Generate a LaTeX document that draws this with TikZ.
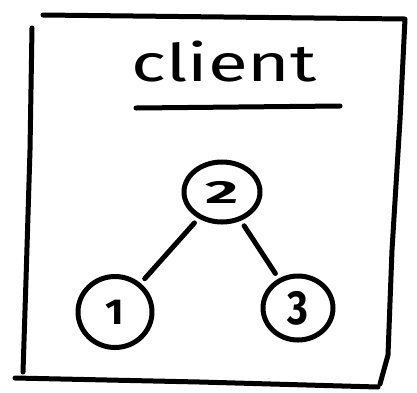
\documentclass[tikz,border=0pt]{standalone}
\usepackage{fontspec}
\setmainfont{Fira Sans}
\usetikzlibrary{shapes.geometric}
\tikzset{
  ink/.style={line width=5pt, line cap=round, line join=round, draw=black},
  treenode/.style={ellipse, ink, inner sep=0pt, font=\fontsize{40}{40}\selectfont\bfseries},
  treeedge/.style={ink, shorten <=6pt, shorten >=6pt}
}
\begin{document}
\begin{tikzpicture}[x=1pt,y=-1pt]
\useasboundingbox (0,0) rectangle (417,392);
% box
\draw[ink] (43,15) -- (405,19) -- (400,120) -- (392,250) -- (388,355) -- (380,384);
\draw[ink] (32,28) -- (30,150) -- (26,280) -- (23,372);
\draw[ink] (15,378) -- (200,382) -- (378,387);
% title
\node[font=\fontsize{52}{52}\selectfont] (title) at (224,62) {\scalebox{1.4}[1]{client}};
\draw[ink] (136,108) -- (340,106);
% tree
\node[treenode, minimum width=76pt, minimum height=60pt] (n2) at (222,192) {\scalebox{1.6}[0.8]{2}};
\node[treenode, minimum width=74pt, minimum height=71pt] (n1) at (115,312) {\scalebox{1}[0.9]{1}};
\node[treenode, minimum width=70pt, minimum height=64pt] (n3) at (298,308) {\scalebox{1}[1.2]{3}};
\draw[treeedge] (n2) -- (n1);
\draw[treeedge] (n2) -- (n3);
\end{tikzpicture}
\end{document}
